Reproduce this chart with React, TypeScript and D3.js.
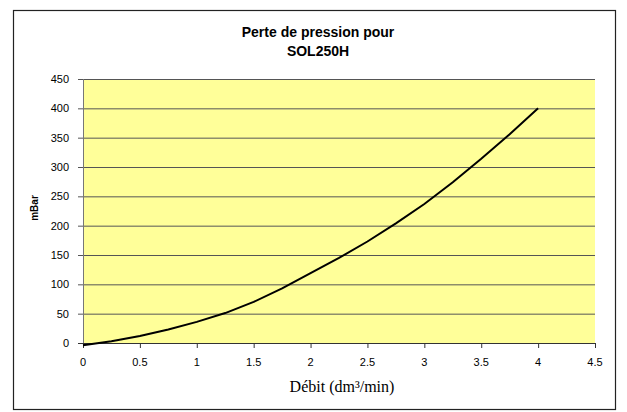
import React from 'react';
import * as d3 from 'd3';

// Courbe de perte de pression
const debit = [0, 0.25, 0.5, 0.75, 1, 1.25, 1.5, 1.75, 2, 2.25, 2.5, 2.75, 3, 3.25, 3.5, 3.75, 4];
const pression = [-4, 3, 12, 23, 36, 51, 70, 93, 119, 145, 173, 204, 237, 274, 314, 356, 400];
const xTicks = [0, 0.5, 1, 1.5, 2, 2.5, 3, 3.5, 4, 4.5];
const yTicks = [0, 50, 100, 150, 200, 250, 300, 350, 400, 450];

const App: React.FC = () => {
    const width = 627;
    const height = 412;
    const left = 83;
    const right = 595;
    const top = 79;
    const bottom = 343;

    const xScale = d3.scaleLinear().domain([0, 4.5]).range([left, right]);
    const yScale = d3.scaleLinear().domain([0, 450]).range([bottom, top]);

    const points = debit.map((d, i) => [d, pression[i]] as [number, number]);
    const line = d3
        .line<[number, number]>()
        .x((d) => xScale(d[0]))
        .y((d) => yScale(d[1]));

    const font = 'Arial, "Liberation Sans", sans-serif';

    return (
        <svg width={width} height={height} style={{ position: 'absolute', left: 0, top: 0 }}>
            <rect x={0} y={0} width={width} height={height} fill="#fff" />
            {/* cadre extérieur */}
            <rect x={13.5} y={10.5} width={602} height={399} fill="none" stroke="#222" strokeWidth={1.2} />

            {/* zone de tracé */}
            <rect x={left} y={top} width={right - left} height={bottom - top} fill="#FFFF99" />

            {yTicks.map((t) => (
                <g key={'y' + t}>
                    <line x1={left - 5} x2={right} y1={yScale(t) + 0.5} y2={yScale(t) + 0.5}
                        stroke={t === 0 ? '#333' : '#555'} strokeWidth={1} />
                    <text x={69} y={yScale(t) + 4} textAnchor="end" fontFamily={font} fontSize={11} fill="#000">
                        {t}
                    </text>
                </g>
            ))}
            <line x1={left + 0.5} x2={left + 0.5} y1={top} y2={bottom} stroke="#777" strokeWidth={1} />

            {xTicks.map((t) => (
                <g key={'x' + t}>
                    <line x1={xScale(t) + 0.5} x2={xScale(t) + 0.5} y1={bottom} y2={bottom + 5} stroke="#333" />
                    <text x={xScale(t)} y={366} textAnchor="middle" fontFamily={font} fontSize={11} fill="#000">
                        {t}
                    </text>
                </g>
            ))}

            <path d={line(points) || ''} fill="none" stroke="#000" strokeWidth={2} />

            {/* titres */}
            <text x={318} y={37} textAnchor="middle" fontFamily={font} fontSize={14} fontWeight="bold">
                Perte de pression pour
            </text>
            <text x={318} y={56} textAnchor="middle" fontFamily={font} fontSize={14} fontWeight="bold">
                SOL250H
            </text>
            <text x={342} y={392} textAnchor="middle" fontFamily='"Times New Roman", "Liberation Serif", serif' fontSize={16}>
                Débit (dm³/min)
            </text>
            <text transform="translate(38,208) rotate(-90)" textAnchor="middle" fontFamily={font} fontSize={10} fontWeight="bold">
                mBar
            </text>
        </svg>
    );
};

export default App;
